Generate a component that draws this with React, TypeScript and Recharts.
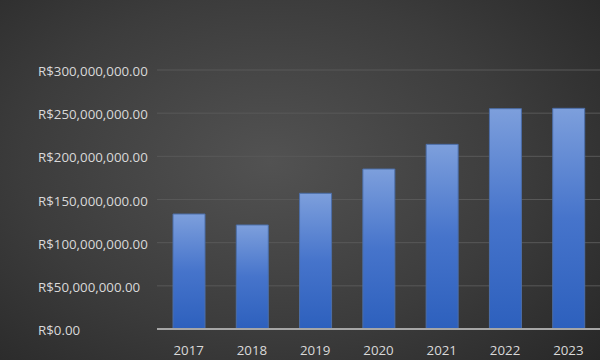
import React from 'react';
import { Bar, BarChart, CartesianGrid, XAxis, YAxis } from 'recharts';

const years = ['2017', '2018', '2019', '2020', '2021', '2022', '2023'];
const amounts = [133200000, 120500000, 157200000, 185300000, 213900000, 255200000, 255600000];
const yTicks = [0, 50000000, 100000000, 150000000, 200000000, 250000000, 300000000];

const data = years.map((year, i) => ({ year, amount: amounts[i] }));

const FONT = '"Open Sans", Lato, sans-serif';

const formatBRL = (v: number) =>
  'R$' + v.toLocaleString('en-US', { minimumFractionDigits: 2, maximumFractionDigits: 2 });

const YTick = (props: any) => {
  const { y, payload } = props;
  return (
    <text x={38} y={y + 1} textAnchor="start" dominantBaseline="central" fill="#d9d9d9" fontSize={13.3} fontFamily={FONT}>
      {formatBRL(payload.value)}
    </text>
  );
};

const XTick = (props: any) => {
  const { x, y, payload } = props;
  return (
    <text x={x} y={y + 19} textAnchor="middle" dominantBaseline="central" fill="#d9d9d9" fontSize={13.3} fontFamily={FONT}>
      {payload.value}
    </text>
  );
};

export default function App() {
  return (
    <div
      style={{
        position: 'absolute',
        left: 0,
        top: 0,
        width: 600,
        height: 360,
        background: 'radial-gradient(ellipse 75% 85% at 45% 45%, #525252 0%, #3c3c3c 55%, #262626 100%)'
      }}
    >
      <BarChart width={600} height={360} data={data} margin={{ top: 70, right: 0, left: 0, bottom: 0 }}>
        <defs>
          <linearGradient id="barFill" x1="0" y1="0" x2="0" y2="1">
            <stop offset="0%" stopColor="#7d9fdc" />
            <stop offset="50%" stopColor="#4674cb" />
            <stop offset="100%" stopColor="#2d60bd" />
          </linearGradient>
        </defs>
        <CartesianGrid vertical={false} stroke="#585858" strokeWidth={1} />
        <XAxis
          dataKey="year"
          height={31}
          tickSize={0}
          tickLine={false}
          axisLine={{ stroke: '#a6a6a6', strokeWidth: 2 }}
          tick={<XTick />}
          interval={0}
        />
        <YAxis
          width={157}
          domain={[0, 300000000]}
          ticks={yTicks}
          axisLine={false}
          tickLine={false}
          tick={<YTick />}
          interval={0}
        />
        <Bar dataKey="amount" fill="url(#barFill)" stroke="#4c6ea8" strokeWidth={1} barSize={32} isAnimationActive={false} />
      </BarChart>
    </div>
  );
}
